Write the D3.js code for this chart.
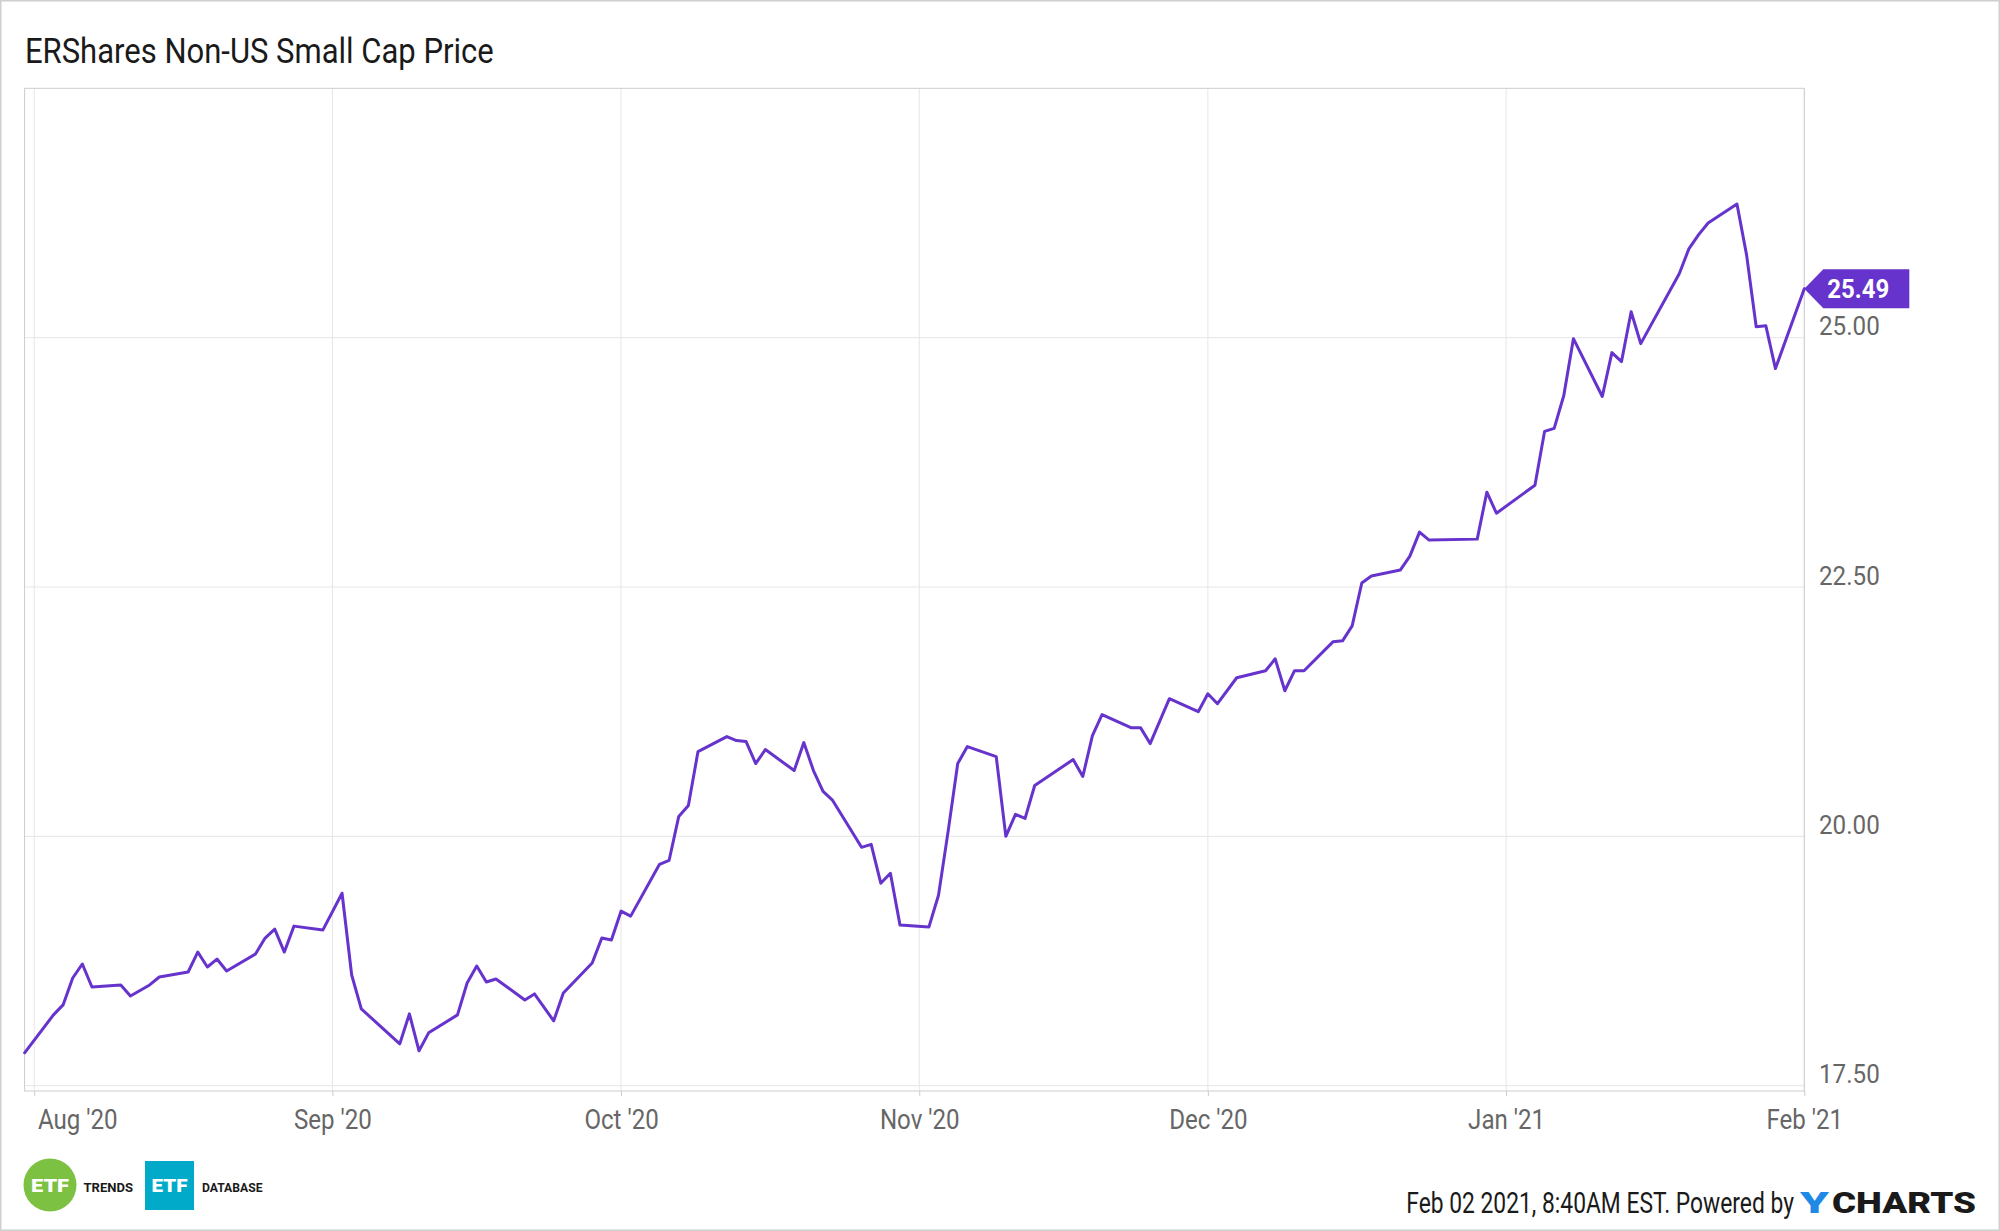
<!DOCTYPE html>
<html>
<head>
<meta charset="utf-8">
<script src="https://cdn.jsdelivr.net/npm/d3@7"></script>
<style>
  html, body { margin: 0; padding: 0; background: #fff; }
  svg { display: block; font-family: Roboto, "Noto Sans", sans-serif; }
</style>
</head>
<body>
<script>
// ---------------- DATA ----------------
const title = "ERShares Non-US Small Cap Price";
const dates = [
  "2020-07-31","2020-08-03","2020-08-04","2020-08-05","2020-08-06","2020-08-07","2020-08-10","2020-08-11",
  "2020-08-13","2020-08-14","2020-08-17","2020-08-18","2020-08-19","2020-08-20","2020-08-21","2020-08-24",
  "2020-08-25","2020-08-26","2020-08-27","2020-08-28","2020-08-31","2020-09-02","2020-09-03","2020-09-04",
  "2020-09-08","2020-09-09","2020-09-10","2020-09-11","2020-09-14","2020-09-15","2020-09-16","2020-09-17",
  "2020-09-18","2020-09-21","2020-09-22","2020-09-24","2020-09-25","2020-09-28","2020-09-29","2020-09-30",
  "2020-10-01","2020-10-02","2020-10-05","2020-10-06","2020-10-07","2020-10-08","2020-10-09","2020-10-12",
  "2020-10-13","2020-10-14","2020-10-15","2020-10-16","2020-10-19","2020-10-20","2020-10-21","2020-10-22",
  "2020-10-23","2020-10-26","2020-10-27","2020-10-28","2020-10-29","2020-10-30","2020-11-02","2020-11-03",
  "2020-11-04","2020-11-05","2020-11-06","2020-11-09","2020-11-10","2020-11-11","2020-11-12","2020-11-13",
  "2020-11-17","2020-11-18","2020-11-19","2020-11-20","2020-11-23","2020-11-24","2020-11-25","2020-11-27",
  "2020-11-30","2020-12-01","2020-12-02","2020-12-04","2020-12-07","2020-12-08","2020-12-09","2020-12-10",
  "2020-12-11","2020-12-14","2020-12-15","2020-12-16","2020-12-17","2020-12-18","2020-12-21","2020-12-22",
  "2020-12-23","2020-12-24","2020-12-29","2020-12-30","2020-12-31","2021-01-04","2021-01-05","2021-01-06",
  "2021-01-07","2021-01-08","2021-01-11","2021-01-12","2021-01-13","2021-01-14","2021-01-15","2021-01-19",
  "2021-01-20","2021-01-21","2021-01-22","2021-01-25","2021-01-26","2021-01-27","2021-01-28","2021-01-29",
  "2021-02-01"
];
const prices = [
  17.83,18.21,18.31,18.58,18.72,18.49,18.51,18.40,
  18.51,18.59,18.64,18.84,18.69,18.77,18.65,18.82,
  18.98,19.07,18.84,19.10,19.06,19.43,18.61,18.27,
  17.92,18.22,17.85,18.03,18.21,18.53,18.70,18.54,
  18.57,18.36,18.42,18.15,18.43,18.73,18.98,18.96,
  19.25,19.20,19.72,19.76,20.20,20.31,20.85,21.00,
  20.96,20.95,20.73,20.87,20.66,20.94,20.66,20.45,
  20.36,19.89,19.92,19.53,19.63,19.11,19.09,19.41,
  20.05,20.73,20.90,20.80,20.00,20.22,20.18,20.51,
  20.77,20.60,21.01,21.22,21.09,21.09,20.93,21.38,
  21.25,21.43,21.33,21.59,21.66,21.78,21.46,21.66,
  21.66,21.95,21.96,22.11,22.54,22.61,22.67,22.81,
  23.05,22.97,22.98,23.45,23.24,23.52,24.06,24.09,
  24.42,24.99,24.41,24.85,24.76,25.26,24.94,25.64,
  25.89,26.03,26.15,26.34,25.83,25.11,25.12,24.69,
  25.49
];
const monthTicks = ["2020-08-01","2020-09-01","2020-10-01","2020-11-01","2020-12-01","2021-01-01","2021-02-01"];
const yTicks = [17.5, 20, 22.5, 25];
const footerText = "Feb 02 2021, 8:40AM EST. Powered by";

// ---------------- CHART ----------------
const W = 2000, H = 1231;
const parse = d3.timeParse("%Y-%m-%d");
const data = dates.map((d, i) => ({ date: parse(d), value: prices[i] }));
const mTicks = monthTicks.map(parse);

const pLeft = 24.6, pRight = 1804.3, pTop = 88.3, pBottom = 1091;
const x = d3.scaleTime().domain([parse("2020-07-31"), parse("2021-02-01")]).range([pLeft, pRight]);
const y = d3.scaleLinear().domain([17.5, 27.5]).range([1085.7, pTop]);

const purple = "#6633cc";
const svg = d3.select("body").append("svg").attr("width", W).attr("height", H);
svg.append("rect").attr("x", 0).attr("y", 0).attr("width", W).attr("height", H).attr("fill", "#fff");
// outer border
svg.append("rect").attr("x", 0.75).attr("y", 0.75).attr("width", W - 1.5).attr("height", H - 1.5)
  .attr("fill", "none").attr("stroke", "#cfcfcf").attr("stroke-width", 1.5);

function condense(sel, factor) {
  sel.each(function () {
    const l = this.getComputedTextLength();
    d3.select(this).attr("textLength", l * factor).attr("lengthAdjust", "spacingAndGlyphs");
  });
}
// draw text with a given cap size and exact width: shrink font so natural width fits, stretch vertically
function fitText(g, str, px, py, size, width, anchor, attrs) {
  const t = g.append("text").attr("x", 0).attr("y", 0).attr("font-size", size).attr("text-anchor", anchor).text(str);
  Object.entries(attrs || {}).forEach(([k, v]) => t.attr(k, v));
  const L = t.node().getComputedTextLength();
  const fs = size * width / L;
  t.attr("font-size", fs).attr("transform", `translate(${px},${py}) scale(1,${size / fs})`);
  return t;
}

// title
fitText(svg, title, 25, 63, 35, 469, "start", { fill: "#1a1a1a" });

// gridlines
const grid = svg.append("g");
grid.selectAll("line.h").data(yTicks).join("line").attr("class", "h")
  .attr("x1", pLeft).attr("x2", pRight).attr("y1", d => y(d)).attr("y2", d => y(d))
  .attr("stroke", "#e6e6e6").attr("stroke-width", 1);
grid.selectAll("line.v").data(mTicks).join("line").attr("class", "v")
  .attr("x1", d => x(d)).attr("x2", d => x(d)).attr("y1", pTop).attr("y2", pBottom)
  .attr("stroke", "#e6e6e6").attr("stroke-width", 1);

// frame
svg.append("rect").attr("x", pLeft).attr("y", pTop).attr("width", pRight - pLeft).attr("height", pBottom - pTop)
  .attr("fill", "none").attr("stroke", "#cccccc").attr("stroke-width", 1);

// x axis
const xAxis = d3.axisBottom(x).tickValues(mTicks).tickFormat(d3.timeFormat("%b '%y")).tickSize(5).tickSizeOuter(0);
const gx = svg.append("g").attr("transform", `translate(0,${pBottom})`).call(xAxis);
gx.select(".domain").remove();
gx.selectAll(".tick line").attr("stroke", "#cccccc");
gx.selectAll(".tick text").attr("y", 38).attr("dy", 0).attr("font-size", 28).attr("fill", "#666666")
  .attr("font-family", "Roboto, sans-serif");
condense(gx.selectAll(".tick text"), 0.86);
gx.selectAll(".tick text").each(function () {
  const b = this.getBBox();
  const tick = this.parentNode;
  const m = (tick.getAttribute("transform") || "").match(/translate\(([-\d.]+)/);
  const tx = m ? +m[1] : 0;
  if (tx + b.x < 38) d3.select(this).attr("x", 38 - tx - b.x);
});

// y axis labels (right)
const yAxis = d3.axisRight(y).tickValues(yTicks).tickFormat(d3.format(".2f")).tickSize(0);
const gy = svg.append("g").attr("transform", `translate(1819,0)`).call(yAxis);
gy.select(".domain").remove();
gy.selectAll(".tick text").attr("x", 0).attr("dy", 0).attr("y", -3).attr("font-size", 26)
  .attr("fill", "#666666").attr("text-anchor", "start").attr("font-family", "Roboto, sans-serif");
condense(gy.selectAll(".tick text"), 0.93);

// line
const line = d3.line().x(d => x(d.date)).y(d => y(d.value));
svg.append("path").datum(data).attr("d", line).attr("fill", "none")
  .attr("stroke", purple).attr("stroke-width", 3).attr("stroke-linejoin", "round").attr("stroke-linecap", "round");

// last price tag
const last = data[data.length - 1];
const tx0 = x(last.date), ty0 = y(last.value);
svg.append("path")
  .attr("d", `M${tx0},${ty0} L${tx0 + 19},${ty0 - 19.5} L${tx0 + 105},${ty0 - 19.5} L${tx0 + 105},${ty0 + 19.5} L${tx0 + 19},${ty0 + 19.5} Z`)
  .attr("fill", purple);
svg.append("text").attr("x", tx0 + 23).attr("y", ty0 + 9).attr("font-size", 25).attr("font-weight", 700)
  .attr("fill", "#fff").attr("textLength", 62).attr("lengthAdjust", "spacingAndGlyphs")
  .text(d3.format(".2f")(last.value));

// logos bottom-left
const logo = svg.append("g");
logo.append("circle").attr("cx", 50).attr("cy", 1185).attr("r", 26.5).attr("fill", "#7cc142");
logo.append("text").attr("x", 50).attr("y", 1192).attr("text-anchor", "middle").attr("font-size", 18)
  .attr("font-weight", 900).attr("fill", "#fff").attr("textLength", 38).attr("lengthAdjust", "spacingAndGlyphs").text("ETF");
logo.append("text").attr("x", 83.5).attr("y", 1192).attr("font-size", 13.5).attr("font-weight", 700)
  .attr("fill", "#1a1a1a").attr("textLength", 49.5).attr("lengthAdjust", "spacingAndGlyphs").text("TRENDS");
logo.append("rect").attr("x", 145).attr("y", 1161).attr("width", 49).attr("height", 49).attr("fill", "#00aac8");
logo.append("text").attr("x", 169.5).attr("y", 1192).attr("text-anchor", "middle").attr("font-size", 18)
  .attr("font-weight", 900).attr("fill", "#fff").attr("textLength", 36).attr("lengthAdjust", "spacingAndGlyphs").text("ETF");
logo.append("text").attr("x", 202).attr("y", 1192).attr("font-size", 13.5).attr("font-weight", 700)
  .attr("fill", "#1a1a1a").attr("textLength", 60.5).attr("lengthAdjust", "spacingAndGlyphs").text("DATABASE");

// footer
fitText(svg, footerText, 1794, 1213, 30, 388, "end", { fill: "#1a1a1a" });
svg.append("text").attr("x", 1800).attr("y", 1213).attr("font-size", 30).attr("font-weight", 900)
  .attr("fill", "#1e8ae6").attr("textLength", 29).attr("lengthAdjust", "spacingAndGlyphs").text("Y");
svg.append("text").attr("x", 1832).attr("y", 1213).attr("font-size", 30).attr("font-weight", 900)
  .attr("fill", "#1a1a1a").attr("textLength", 144).attr("lengthAdjust", "spacingAndGlyphs").text("CHARTS");
</script>
</body>
</html>
